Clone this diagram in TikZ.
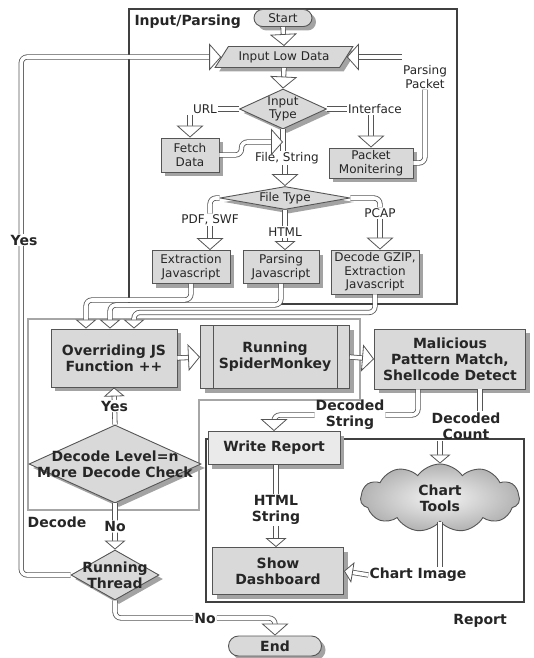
\documentclass[tikz,border=0pt]{standalone}
\usepackage{fontspec}
\setmainfont{DejaVu Sans}
\usetikzlibrary{shapes.geometric,shapes.symbols,shapes.misc,shadows,arrows.meta}

\definecolor{boxgray}{HTML}{D9D9D9}
\definecolor{edgegray}{HTML}{555555}
\definecolor{shadowgray}{HTML}{A3A3A3}

\tikzset{
  boxshadow/.style={drop shadow={shadow xshift=4pt, shadow yshift=-4pt, fill=shadowgray, opacity=1}},
  small/.style={font=\fontsize{12}{13.5}\selectfont},
  big/.style={font=\fontsize{14}{16}\selectfont\bfseries},
  box/.style={draw=edgegray, fill=boxgray, line width=0.9pt, boxshadow, align=center, inner sep=1pt},
  decision/.style={diamond, draw=edgegray, fill=boxgray, line width=0.9pt, boxshadow, align=center, inner sep=0pt},
  lbl/.style={align=center, inner sep=1pt},
  % hollow connector: grey outline, white core
  conn/.style={draw=white, line width=3.6pt, rounded corners=6pt,
    preaction={draw=edgegray, line width=5.2pt, -}},
  arr/.style={draw=white, line width=3.6pt, rounded corners=6pt,
    preaction={draw=edgegray, line width=5.2pt, -, shorten >=7pt},
    -{Triangle[open, color=edgegray, fill=white, width=27pt, length=12pt, line width=0.8pt]}},
  arrsm/.style={arr, -{Triangle[open, color=edgegray, fill=white, width=21pt, length=9pt, line width=0.8pt]}},
  zone/.style={draw=black!75, line width=1.4pt},
}

\begin{document}
\begin{tikzpicture}[x=1pt, y=-1pt, text=black!85]
\useasboundingbox (0,0) rectangle (534,658);

% zones
\draw[zone] (129,9) rectangle (457,304);
\draw[zone, draw=black!35, line width=1.1pt] (28,319) -- (360,319) -- (360,400) -- (199,400) -- (199,510) -- (28,510) -- cycle;
\draw[zone] (206,439) rectangle (524,602);
\node[big, anchor=west] (tinput) at (131,22) {Input/Parsing};
\node[big] (tdecode) at (57,522) {Decode};
\node[big] (treport) at (480,621) {Report};

% input / parsing
\node[box, small, rounded rectangle, minimum width=60pt, minimum height=17pt] (start) at (283,18) {Start};
\node[trapezium, trapezium left angle=50, trapezium right angle=130, trapezium stretches=true,
      draw=edgegray, fill=boxgray, line width=0.9pt, boxshadow, small, inner sep=1pt,
      minimum width=138pt, minimum height=21pt] (lowdata) at (284,57) {Input Low Data};
\node[decision, small, aspect=2.2, minimum width=87pt, minimum height=40pt] (intype) at (283,109) {Input\\Type};
\node[lbl, small] (url) at (205,109) {URL};
\node[lbl, small] (iface) at (375,109) {Interface};
\node[box, small, minimum width=58pt, minimum height=34pt] (fetch) at (190,155) {Fetch\\Data};
\node[box, small, minimum width=84pt, minimum height=30pt] (packet) at (371,163) {Packet\\Monitering};
\node[lbl, small] (parsepk) at (425,77) {Parsing\\Packet};
\node[lbl, small] (filestr) at (287,158) {File, String};
\node[decision, small, aspect=6, minimum width=130pt, minimum height=23pt] (ftype) at (285,198) {File Type};
\node[lbl, small] (pdfswf) at (210,220) {PDF, SWF};
\node[lbl, small] (html) at (285,232) {HTML};
\node[lbl, small] (pcap) at (380,213) {PCAP};
\node[box, small, minimum width=78pt, minimum height=33pt] (extract) at (191,267) {Extraction\\Javascript};
\node[box, small, minimum width=76pt, minimum height=33pt] (parsejs) at (281,267) {Parsing\\Javascript};
\node[box, small, minimum width=88pt, minimum height=44pt] (gzip) at (375,272) {Decode GZIP,\\Extraction\\Javascript};

\draw[arr] (start.south) -- (lowdata.north);
\draw[arr] (lowdata.south) -- (intype.north);
\draw[conn] (intype.west) -- (url.east);
\draw[arr] (fetch.north |- url.south) -- (fetch.north);
\draw[conn] (intype.east) -- (iface.west);
\draw[arr] (packet.north |- iface.south) -- (packet.north);
\draw[conn] (packet.east) -| (parsepk.south);
\draw[arr] (parsepk.west |- lowdata.east) -- (lowdata.east);
\draw[conn] (intype.south) -- (intype.south |- filestr.north);
\draw[arr] (fetch.east) -- ++(22,0) |- (intype.south |- 0,142);
\draw[arr] (filestr.south -| ftype.north) -- (ftype.north);
\draw[conn] (ftype.west) -| (pdfswf.north);
\draw[arr] (pdfswf.south) -- (pdfswf.south |- extract.north);
\draw[conn] (ftype.south) -- (html.north);
\draw[arrsm] (html.south) -- (html.south |- parsejs.north);
\draw[conn] (ftype.east) -| (pcap.north);
\draw[arr] (pcap.south) -- (pcap.south |- gzip.north);

% decode
\node[box, big, minimum width=126pt, minimum height=58pt] (override) at (114,358) {Overriding JS\\Function ++};
\node[box, big, minimum width=149pt, minimum height=63pt] (spider) at (275,357) {Running\\SpiderMonkey};
\draw[edgegray, line width=0.9pt] ([xshift=13pt]spider.north west) -- ([xshift=13pt]spider.south west)
  ([xshift=-13pt]spider.north east) -- ([xshift=-13pt]spider.south east);
\node[box, big, minimum width=151pt, minimum height=60pt] (pattern) at (450,359) {Malicious\\Pattern Match,\\Shellcode Detect};
\node[decision, big, minimum width=172pt, minimum height=78pt] (level) at (115,464)
  {\makebox[0pt]{Decode Level=n}\\\makebox[0pt]{More Decode Check}};
\node[decision, big, minimum width=88pt, minimum height=50pt] (thread) at (115,575)
  {\makebox[0pt]{Running}\\\makebox[0pt]{Thread}};
\node[box, big, rounded rectangle, minimum width=95pt, minimum height=20pt] (finish) at (275,646) {End};

\draw[arrsm] (extract.south) -- ++(0,16) -| ([xshift=-28pt]override.north);
\draw[arrsm] (parsejs.south) -- ++(0,21) -| ([xshift=-4pt]override.north);
\draw[arrsm] (gzip.south) -- ++(0,18) -| ([xshift=20pt]override.north);
\draw[arr] (override.east) -- (spider.west);
\draw[arr] (spider.east) -- (pattern.west);
\draw[arrsm] (level.north) -- node[lbl, big, fill=white] (yesup) {Yes} (override.south);
\draw[arrsm] (level.south) -- node[lbl, big, fill=white] (nodown) {No} (thread.north);
\draw[arr] (thread.west) -| ([xshift=-200pt]lowdata.west) -- (lowdata.west);
\node[lbl, big, fill=white] (yesloop) at (24,240) {Yes};
\node[lbl, big] (noend) at (205,618) {No};
\draw[conn] (thread.south) |- (noend.west);
\draw[arr] (noend.east) -| (finish.north);

% report
\node[box, big, fill=boxgray!55, minimum width=132pt, minimum height=33pt] (write) at (274,448) {Write Report};
\node[lbl, big] (htmlstr) at (276,510) {HTML\\String};
\node[box, big, minimum width=131pt, minimum height=47pt] (dash) at (278,571) {Show\\Dashboard};
\node[cloud, cloud puffs=11, cloud puff arc=110, aspect=2.3, draw=edgegray, line width=0.9pt,
      inner color=gray!8, outer color=gray!60, big, align=center,
      minimum width=159pt, minimum height=68pt] (charts) at (440,498) {Chart\\Tools};
\node[lbl, big] (chartimg) at (418,575) {Chart Image};
\node[lbl, big] (decstr) at (350,415) {Decoded\\String};
\node[lbl, big] (deccnt) at (466,426) {Decoded\\Count};

\draw[conn] ([xshift=-32pt]pattern.south) |- (decstr.east);
\draw[arr] (decstr.west) -| (write.north);
\draw[conn] ([xshift=30pt]pattern.south) -- ([xshift=30pt]pattern.south |- deccnt.north);
\draw[arrsm] (deccnt.south -| charts.north) -- (charts.north);
\draw[conn] (write.south -| htmlstr) -- (htmlstr.north);
\draw[arrsm] (htmlstr.south) -- (htmlstr.south |- dash.north);
\draw[conn] (charts.south) -- (charts.south |- chartimg.north);
\draw[arrsm] (chartimg.west) -- (dash.east);
\end{tikzpicture}
\end{document}
